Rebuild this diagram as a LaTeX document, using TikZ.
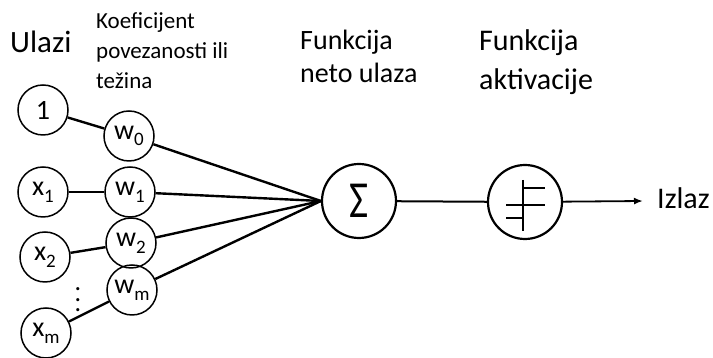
\documentclass[tikz,border=0pt]{standalone}
\usepackage{fontspec}
\setmainfont{Carlito}
\usetikzlibrary{arrows.meta}
\newcommand{\withsub}[2]{#1\raisebox{-0.5ex}{\fontsize{19}{19}\selectfont #2}}
\begin{document}
\begin{tikzpicture}
[x=1pt, y=1pt,
  nodedecorate/.style={shape=circle,draw,line width=1.5pt,inner sep=0pt,
    minimum size=50pt,font=\fontsize{28}{28}\selectfont},%
  bigdecorate/.style={shape=circle,draw,line width=2.2pt,inner sep=0pt,
    minimum size=74pt},%
  linedecorate/.style={-,line width=2.4pt},%
  textdecorate/.style={inner sep=0pt,align=left}]
\useasboundingbox (0,0) rectangle (713,358);
%% nodes or vertices
\foreach \nodename/\x/\y/\txt in {one/43/248/1, xa/43/166/{\withsub{x}{1}},
  xb/45/101/{\withsub{x}{2}}, xm/46/25/{\withsub{x}{m}},
  wa/129/222/{\withsub{w}{0}}, wb/130/166/{\withsub{w}{1}},
  wc/131/115/{\withsub{w}{2}}, wm/132/68/{\withsub{w}{m}}}
{
  \node (\nodename) at (\x,\y) [nodedecorate] {\txt};
}
\node (dots) at (78,66) [inner sep=0pt] {\scalebox{2.6}{$\vdots$}};
\node (sum) at (359,157) [bigdecorate]
  {\fontsize{52}{52}\selectfont\scalebox{0.8}[1]{Σ}};
\node (act) at (525,156) [bigdecorate] {};
\draw[line width=2pt] ([xshift=-2pt,yshift=22pt]act.center) -- ([xshift=-2pt,yshift=-29pt]act.center)
  ([xshift=-2pt,yshift=14pt]act.center) -- ([xshift=20pt,yshift=14pt]act.center)
  ([xshift=-19pt,yshift=-16pt]act.center) -- ([xshift=-2pt,yshift=-16pt]act.center);
\draw[line width=1.5pt] ([xshift=-19pt,yshift=-3pt]act.center) -- ([xshift=20pt,yshift=-3pt]act.center);
\coordinate (out) at (643,157);
%% labels
\node (inputs) [textdecorate,anchor=base west,font=\fontsize{31}{31}\selectfont]
  at (10,305) {Ulazi};
\node (weights) [textdecorate,anchor=north west,font=\fontsize{23}{30}\selectfont]
  at (96,346) {Koeficijent\\povezanosti ili\\težina};
\node (netin) [textdecorate,anchor=north west,font=\fontsize{28}{33}\selectfont]
  at (300,328) {Funkcija\\neto ulaza};
\node (actfn) [textdecorate,anchor=north west,font=\fontsize{30}{39}\selectfont]
  at (479,329) {Funkcija\\aktivacije};
\node (output) [textdecorate,anchor=base west,font=\fontsize{30}{30}\selectfont]
  at (657,149) {Izlaz};
%% edges or lines
\path
\foreach \startnode/\endnode in {one/wa, xa/wb, xb/wc, xm/wm} {
  (\startnode) edge[linedecorate] (\endnode)
}
\foreach \startnode in {wa, wb, wc, wm} {
  (\startnode) edge[linedecorate] (sum.west)
};
\draw[line width=2pt] (sum) -- (act);
\draw[line width=1.8pt,-{Latex[length=9pt,width=7pt]}] (act) -- (out);
\end{tikzpicture}
\end{document}
